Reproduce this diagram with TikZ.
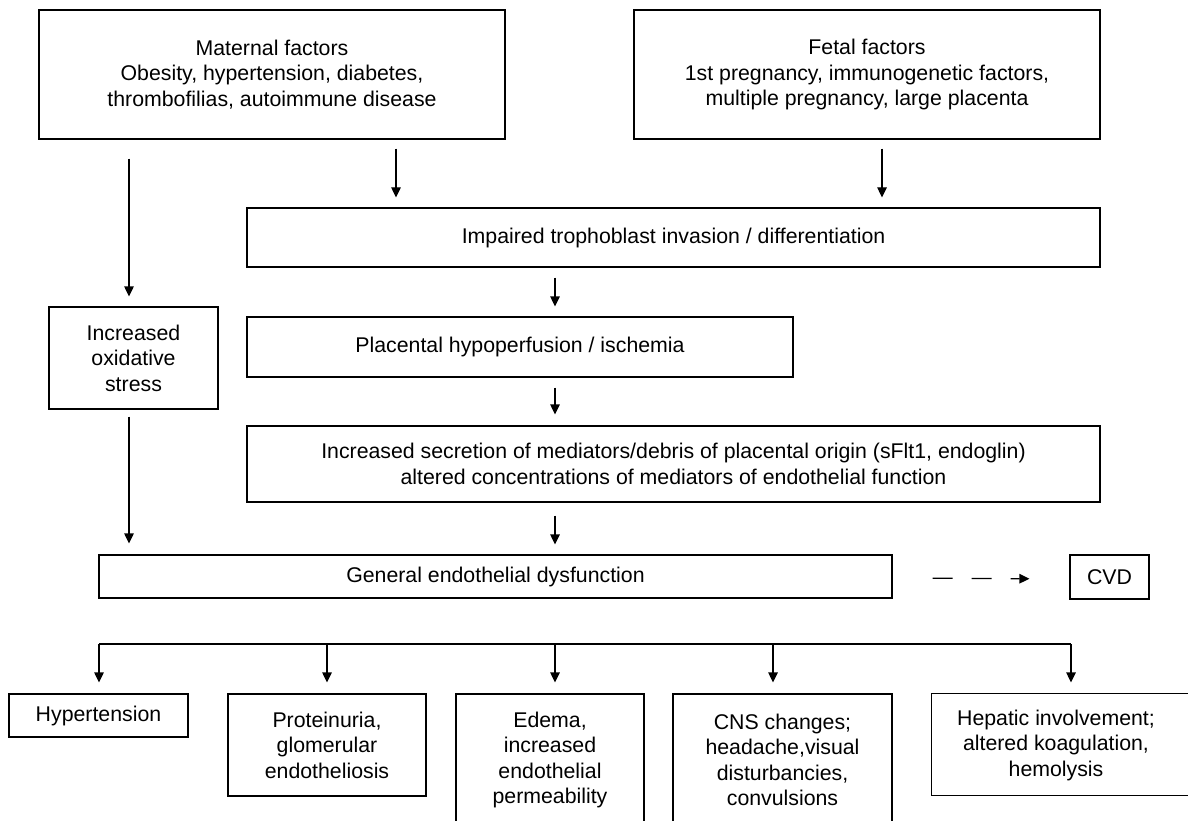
\documentclass[tikz,border=0pt]{standalone}
\usepackage{fontspec}
\setmainfont{Liberation Sans}
\usetikzlibrary{arrows.meta}

\begin{document}
\begin{tikzpicture}[x=1pt,y=-1pt,
  box/.style={draw, line width=1.2pt, inner sep=0pt, align=center,
              font=\fontsize{21.3}{25.5}\selectfont},
  arr/.style={line width=1.2pt, -{Triangle[length=10pt,width=9.5pt]}},
  link/.style={line width=1.2pt}]
\useasboundingbox (0,0) rectangle (1188,821);
\clip (0,0) rectangle (1188,821);

% column positions of the vertical connectors
\coordinate (xL) at (129,0);
\coordinate (xM) at (396,0);
\coordinate (xC) at (555,0);
\coordinate (xF) at (882,0);

% upper flow
\node[box, minimum width=466, minimum height=129] (mat) at (272,74.5)
  {Maternal factors\\Obesity, hypertension, diabetes,\\thrombofilias, autoimmune disease};
\node[box, minimum width=466, minimum height=129] (fet) at (867,74.5)
  {Fetal factors\\1st pregnancy, immunogenetic factors,\\multiple pregnancy, large placenta};
\node[box, minimum width=853, minimum height=59] (imp) at (673.5,237.5)
  {Impaired trophoblast invasion / differentiation};
\node[box, minimum width=546, minimum height=60] (pla) at (520,347)
  {Placental hypoperfusion / ischemia};
\node[box, minimum width=853, minimum height=76] (sec) at (673.5,464)
  {Increased secretion of mediators/debris of placental origin (sFlt1, endoglin)\\altered concentrations of mediators of endothelial function};
\node[box, minimum width=169, minimum height=102] (ox) at (133.5,358)
  {Increased\\oxidative\\stress};
\node[box, minimum width=793, minimum height=43] (gen) at (495.5,576.5)
  {General endothelial dysfunction};
\node[box, minimum width=79, minimum height=44] (cvd) at (1109.5,577)
  {CVD};

% outcomes
\node[box, minimum width=179, minimum height=43] (hyp) at (98.5,715.5)
  {Hypertension};
\node[box, minimum width=198, minimum height=102] (pro) at (327,745)
  {Proteinuria,\\glomerular\\endotheliosis};
\node[box, minimum width=188, minimum height=132] (ede) at (550,760)
  {Edema,\\increased\\endothelial\\permeability};
\node[box, minimum width=219, minimum height=132] (cns) at (782.5,760)
  {CNS changes;\\headache,visual\\disturbancies,\\convulsions};
\node[box, draw=none, minimum width=248, minimum height=102] (hep) at (1056,745)
  {Hepatic involvement;\\altered koagulation,\\hemolysis};
\draw[link] (hep.north west) rectangle ++(280,102);

% vertical arrows of the upper flow
\draw[arr, shorten <=19pt, shorten >=10pt] (mat.south -| xL) -- (ox.north -| xL);
\draw[arr, shorten <=9pt,  shorten >=10pt] (mat.south -| xM) -- (imp.north -| xM);
\draw[arr, shorten <=9pt,  shorten >=10pt] (fet.south -| xF) -- (imp.north -| xF);
\draw[arr, shorten <=10pt, shorten >=10pt] (imp.south -| xC) -- (pla.north -| xC);
\draw[arr, shorten <=10pt, shorten >=11pt] (pla.south -| xC) -- (sec.north -| xC);
\draw[arr, shorten <=13pt, shorten >=10pt] (sec.south -| xC) -- (gen.north -| xC);
\draw[arr, shorten <=7pt,  shorten >=11pt] (ox.south -| xL) -- (gen.north -| xL);

% dashed link to CVD
\draw[arr, dash pattern=on 20pt off 19pt, shorten <=40pt, shorten >=40pt]
  ([yshift=-1.5pt]gen.east) -- ([yshift=-2pt]cvd.west);

% distribution bar to the outcomes
\coordinate (b1) at (99,644);
\coordinate (b2) at (327,644);
\coordinate (b3) at (555,644);
\coordinate (b4) at (773,644);
\coordinate (b5) at (1071,644);
\draw[link] (b1) -- (b5);
\draw[arr, shorten >=11pt] (b1) -- (hyp.north -| b1);
\draw[arr, shorten >=11pt] (b2) -- (pro.north -| b2);
\draw[arr, shorten >=11pt] (b3) -- (ede.north -| b3);
\draw[arr, shorten >=11pt] (b4) -- (cns.north -| b4);
\draw[arr, shorten >=11pt] (b5) -- (hep.north -| b5);
\end{tikzpicture}
\end{document}
